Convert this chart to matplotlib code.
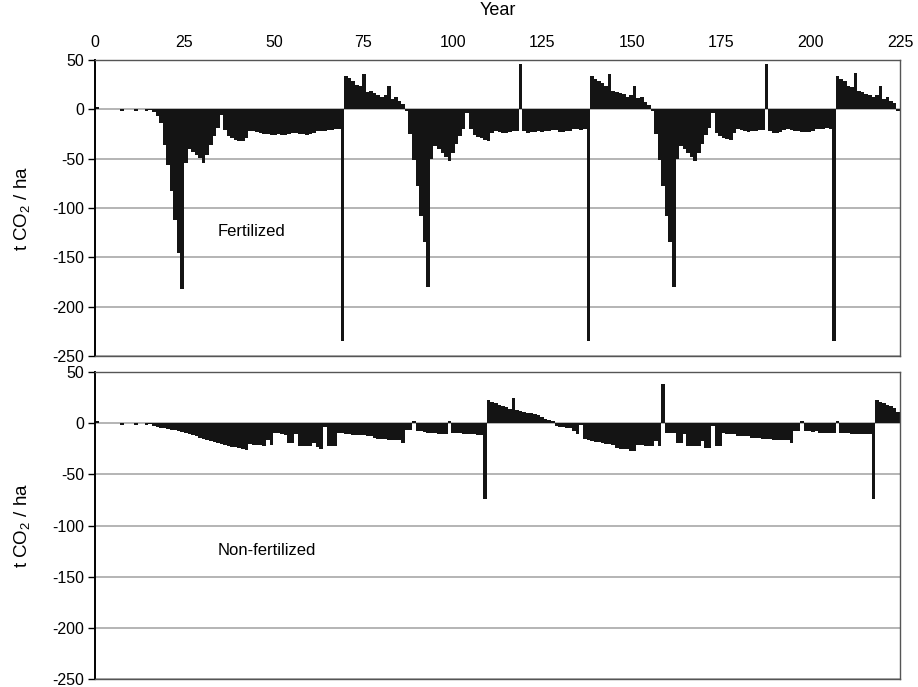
import numpy as np
import matplotlib
matplotlib.use("Agg")
import matplotlib.pyplot as plt

plt.rcParams['font.family'] = ['Liberation Sans', 'DejaVu Sans']
plt.rcParams['mathtext.fontset'] = 'custom'
plt.rcParams['mathtext.rm'] = 'Liberation Sans'
plt.rcParams['mathtext.it'] = 'Liberation Sans:italic'
plt.rcParams['axes.unicode_minus'] = False

# ---- data (t CO2 / ha per year, years 0..225) ----
years = list(range(226))

fertilized = [
    2, 0, 0, 0, 0, 0, 0, -2, 0, 0,
    0, -2, 0, 0, -2, -1, -3, -7, -14, -36,
    -56, -83, -112, -146, -182, -54, -40, -43, -46, -49,
    -54, -46, -36, -27, -19, -6, -21, -27, -29, -31,
    -32, -32, -29, -22, -22, -23, -24, -25, -25, -26,
    -26, -25, -26, -26, -25, -24, -24, -25, -25, -26,
    -25, -24, -22, -22, -22, -21, -21, -20, -20, -235,
    34, 32, 29, 25, 24, 36, 18, 19, 17, 15,
    12, 14, 24, 10, 12, 8, 5, -2, -25, -51,
    -78, -108, -134, -180, -50, -37, -40, -44, -48, -52,
    -44, -35, -27, -20, -4, -20, -26, -28, -29, -31,
    -32, -24, -22, -23, -24, -24, -23, -22, -22, 46,
    -22, -24, -23, -23, -22, -23, -22, -22, -21, -21,
    -23, -23, -22, -22, -20, -20, -21, -20, -235, 34,
    31, 29, 27, 24, 36, 19, 18, 17, 16, 12,
    14, 24, 11, 12, 7, 4, -2, -25, -51, -78,
    -108, -134, -180, -50, -37, -40, -44, -48, -52, -44,
    -35, -26, -19, -4, -24, -27, -29, -30, -31, -24,
    -20, -21, -22, -23, -22, -22, -21, -21, 46, -22,
    -24, -24, -23, -21, -20, -21, -22, -22, -23, -23,
    -23, -22, -20, -20, -20, -19, -20, -235, 34, 31,
    29, 24, 23, 37, 19, 18, 16, 14, 12, 14,
    24, 10, 12, 8, 6, -2,
]

non_fertilized = [
    2, 0, 0, 0, 0, 0, 0, -2, 0, 0,
    0, -2, 0, 0, -2, -1, -3, -4, -5, -5,
    -6, -7, -7, -8, -9, -10, -11, -12, -13, -14,
    -15, -16, -17, -18, -19, -20, -21, -22, -23, -23,
    -24, -25, -26, -20, -21, -21, -21, -22, -16, -21,
    -10, -10, -11, -12, -19, -19, -11, -22, -22, -22,
    -22, -19, -23, -25, -4, -22, -22, -22, -10, -10,
    -11, -11, -12, -12, -12, -12, -13, -13, -14, -15,
    -15, -15, -16, -16, -16, -16, -19, -7, -7, 2,
    -8, -8, -9, -10, -10, -10, -11, -11, -11, 2,
    -10, -10, -10, -11, -11, -11, -11, -12, -12, -74,
    23, 21, 20, 18, 17, 16, 14, 25, 13, 12,
    11, 10, 10, 9, 8, 6, 4, 3, 2, -3,
    -4, -4, -5, -5, -8, -11, -2, -15, -16, -17,
    -18, -18, -19, -20, -20, -21, -24, -25, -25, -25,
    -27, -27, -21, -21, -22, -22, -22, -17, -22, 38,
    -10, -10, -10, -19, -19, -11, -22, -22, -22, -22,
    -17, -24, -24, -3, -22, -22, -10, -11, -11, -11,
    -13, -13, -13, -13, -14, -14, -14, -15, -15, -15,
    -16, -16, -16, -16, -16, -19, -8, -8, 2, -8,
    -8, -9, -8, -10, -10, -10, -10, -10, 2, -10,
    -10, -10, -11, -11, -11, -11, -11, -11, -74, 23,
    21, 20, 18, 17, 15, 11,
]

y_ticks = [50, 0, -50, -100, -150, -200, -250]
year_ticks = [0, 25, 50, 75, 100, 125, 150, 175, 200, 225]
panel_labels = ["Fertilized", "Non-fertilized"]
ylabel = r"t CO$_2$ / ha"

# ---- figure ----
fig = plt.figure(figsize=(9.18, 6.87), dpi=100)
ax1 = fig.add_axes([0.1035, 0.4818, 0.8769, 0.4309])
ax2 = fig.add_axes([0.1035, 0.0116, 0.8769, 0.4469])

n = len(years)
for ax, vals, lab in zip([ax1, ax2], [fertilized, non_fertilized], panel_labels):
    ax.bar(years, vals, width=1.0, align='edge', color='#141414',
           linewidth=0, zorder=2)
    ax.set_xlim(0, n)
    ax.set_ylim(-250, 50)
    ax.set_yticks(y_ticks)
    ax.set_yticklabels([str(t) for t in y_ticks])
    ax.yaxis.grid(True, color='#a8a8a8', linewidth=1.2, zorder=0)
    ax.set_axisbelow(True)
    ax.tick_params(axis='y', direction='out', length=5, width=1,
                   color='black', labelsize=11.5, pad=3)
    for s in ['top', 'right', 'bottom']:
        ax.spines[s].set_color('#555555')
        ax.spines[s].set_linewidth(1.0)
    ax.spines['left'].set_color('black')
    ax.spines['left'].set_linewidth(1.4)
    ax.set_ylabel(ylabel, fontsize=13.5)
    ax.yaxis.set_label_coords(-0.078, 0.5)
    ax.text(34.5, -124, lab, fontsize=12, va='center', ha='left')

# bottom panel: no x tick labels
ax2.set_xticks([])

# top panel: year labels on top
ax1.xaxis.tick_top()
ax1.set_xticks([t * n / 225 for t in year_ticks])
ax1.set_xticklabels([str(t) for t in year_ticks])
ax1.tick_params(axis='x', length=0, labelsize=11.5, pad=7)

fig.text(0.5425, 0.985, "Year", ha='center', va='center', fontsize=13)

fig.savefig("out.png", dpi=100)
